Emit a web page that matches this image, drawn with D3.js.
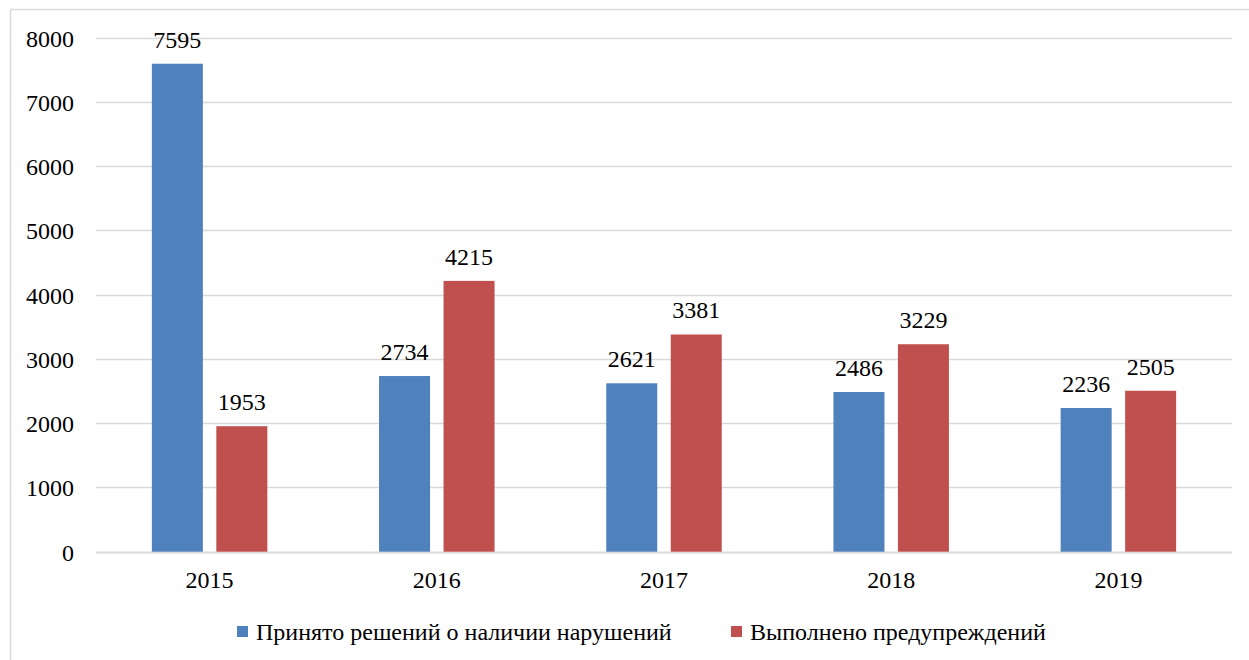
<!DOCTYPE html>
<html>
<head>
<meta charset="utf-8">
<script src="https://cdn.jsdelivr.net/npm/d3@7"></script>
<style>
  body { margin: 0; background: #fff; }
  svg text { font-family: "Liberation Serif", "Times New Roman", serif; fill: #000; }
</style>
</head>
<body>
<script>
var width = 1249, height = 660;

// data
var years = ["2015", "2016", "2017", "2018", "2019"];
var series = ["Принято решений о наличии нарушений", "Выполнено предупреждений"];
var decisions = [7595, 2734, 2621, 2486, 2236];
var warnings = [1953, 4215, 3381, 3229, 2505];
var yTicks = [0, 1000, 2000, 3000, 4000, 5000, 6000, 7000, 8000];
var colors = ["#4F81BD", "#C0504D"];
var font = "'Liberation Serif', 'Times New Roman', serif";

var rows = years.map(function(y, i){
    return {year: y, values: [decisions[i], warnings[i]]};
});

var svg = d3.select("body").append("svg")
            .attr("width", width).attr("height", height)
            .attr("font-family", font);

// outer frame
svg.append("rect").attr("x", 10.5).attr("y", 9.5)
   .attr("width", 1245).attr("height", 670)
   .attr("fill", "none").attr("stroke", "#d9d9d9").attr("stroke-width", 1.5);

var x0 = d3.scaleBand().domain(years).range([96, 1232]).padding(0);
var groupW = 115.5;
var x1 = d3.scaleBand().domain([0, 1]).range([0, groupW]).paddingInner(0.209).paddingOuter(0);
var y = d3.scaleLinear().domain([0, 8000]).range([551.7, 37.7]);

// gridlines
svg.append("g").selectAll("line").data(yTicks).enter().append("line")
   .attr("x1", 96).attr("x2", 1232)
   .attr("y1", function(d){ return Math.round(y(d)) + 0.5; })
   .attr("y2", function(d){ return Math.round(y(d)) + 0.5; })
   .attr("stroke", "#d9d9d9").attr("stroke-width", function(d){ return d === 0 ? 2 : 1.5; });

// y labels
svg.append("g").selectAll("text").data(yTicks).enter().append("text")
   .attr("x", 74).attr("y", function(d){ return y(d) + 9; })
   .attr("text-anchor", "end").style("font-size", "24px").style("font-family", font)
   .text(function(d){ return d; });

// bars
var groups = svg.append("g").selectAll("g").data(rows).enter().append("g")
   .attr("transform", function(d){
       return "translate(" + (x0(d.year) + (x0.bandwidth() - groupW) / 2) + ",0)";
   });

groups.selectAll("rect").data(function(d){ return d.values; }).enter().append("rect")
   .attr("x", function(d, i){ return x1(i); })
   .attr("y", function(d){ return y(d); })
   .attr("width", x1.bandwidth())
   .attr("height", function(d){ return y(0) - y(d); })
   .attr("fill", function(d, i){ return colors[i]; });

groups.selectAll("text").data(function(d){ return d.values; }).enter().append("text")
   .attr("x", function(d, i){ return x1(i) + x1.bandwidth() / 2; })
   .attr("y", function(d){ return y(d) - 16; })
   .attr("text-anchor", "middle").style("font-size", "24px").style("font-family", font)
   .text(function(d){ return d; });

// x labels
svg.append("g").selectAll("text").data(years).enter().append("text")
   .attr("x", function(d){ return x0(d) + x0.bandwidth() / 2; })
   .attr("y", 588)
   .attr("text-anchor", "middle").style("font-size", "24px").style("font-family", font)
   .text(function(d){ return d; });

// legend
var legendX = [237, 731];
var legend = svg.append("g").selectAll("g").data(series).enter().append("g")
   .attr("transform", function(d, i){ return "translate(" + legendX[i] + ",626)"; });
legend.append("rect").attr("width", 11).attr("height", 11)
   .attr("fill", function(d, i){ return colors[i]; });
legend.append("text").attr("x", 19).attr("y", 14)
   .style("font-size", "24px").style("font-family", font)
   .text(function(d){ return d; });
</script>
</body>
</html>
